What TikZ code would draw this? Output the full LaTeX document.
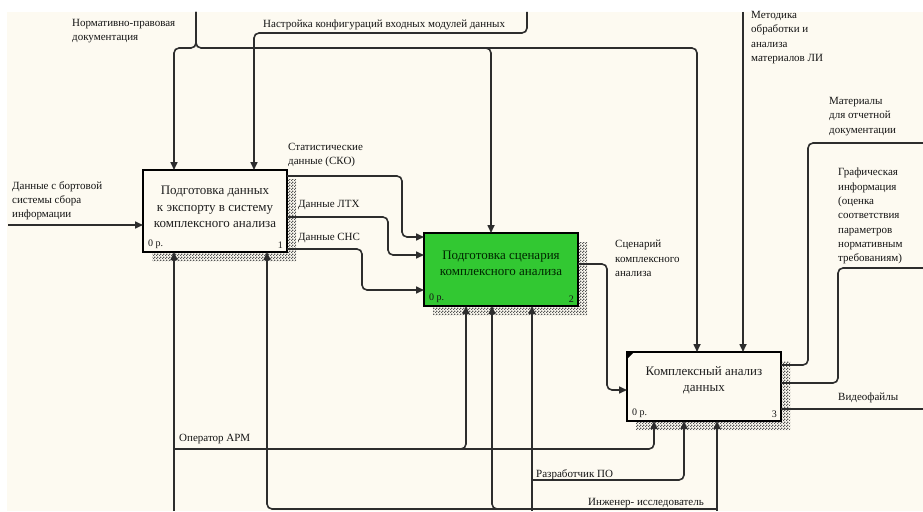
\documentclass[tikz,border=0pt]{standalone}
\usepackage{fontspec}
\setmainfont{Liberation Serif}
\newfontfamily\diagfont{Liberation Serif}
\usetikzlibrary{arrows.meta,calc,patterns}

\definecolor{paper}{RGB}{253,250,241}
\definecolor{wirec}{RGB}{45,45,45}
\definecolor{actgreen}{RGB}{50,200,50}
\definecolor{shadec}{RGB}{85,85,85}

\pgfdeclarelayer{paperlayer}
\pgfdeclarelayer{shadowlayer}
\pgfsetlayers{paperlayer,shadowlayer,main}

% fine checker used for the drop shadows of the activity boxes
\pgfdeclarepatternformonly{finechecker}{\pgfpointorigin}{\pgfpoint{3pt}{3pt}}{\pgfpoint{3pt}{3pt}}{
  \pgfpathrectangle{\pgfpointorigin}{\pgfpoint{1.5pt}{1.5pt}}
  \pgfpathrectangle{\pgfpoint{1.5pt}{1.5pt}}{\pgfpoint{1.5pt}{1.5pt}}
  \pgfusepath{fill}}

\tikzset{
  wire/.style={draw=wirec, line width=1.6pt, rounded corners=5pt},
  arr/.style={wire, -{Triangle[length=8pt,width=7pt]}},
  lbl/.style={font=\diagfont\fontsize{11}{14.3}\selectfont, align=left, inner sep=0pt,
              anchor=north west, text=black!92},
  act/.style={draw=black, line width=2.3pt, inner sep=0pt, outer sep=0pt, fill=paper},
  acttext/.style={font=\diagfont\fontsize{13}{16.5}\selectfont, align=center, inner sep=0pt, text=black!88},
  corner/.style={font=\diagfont\fontsize{10}{12}\selectfont, inner sep=0pt, text=black!92},
  shadowbox/.style={pattern=finechecker, pattern color=shadec}
}

\begin{document}
\diagfont
\begin{tikzpicture}[x=1pt,y=-1pt]
\useasboundingbox (0,0) rectangle (923,511);
\begin{pgfonlayer}{paperlayer}
  \fill[white] (0,0) rectangle (923,511);
  \fill[paper] (7,12) rectangle (923,511);
\end{pgfonlayer}

% activity boxes
\node[act, minimum width=144pt, minimum height=82pt] (b1) at (215,211) {};
\node[act, fill=actgreen, minimum width=154pt, minimum height=73pt] (b2) at (501,269.5) {};
\node[act, minimum width=154pt, minimum height=69pt] (b3) at (704,386.5) {};

\node[acttext] (t1) at ($(b1.center)+(0,-4)$) {Подготовка данных\\к экспорту в систему\\комплексного анализа};
\node[acttext, text=black!85!green] (t2) at ($(b2.center)+(0,-6)$) {Подготовка сценария\\комплексного анализа};
\node[acttext] (t3) at ($(b3.center)+(0,-6)$) {Комплексный анализ\\данных};

\node[corner, anchor=south west] (n1a) at ($(b1.south west)+(5,-3)$) {0 р.};
\node[corner, anchor=south east] (n1b) at ($(b1.south east)+(-4,-3)$) {1};
\node[corner, anchor=south west] (n2a) at ($(b2.south west)+(5,-3)$) {0 р.};
\node[corner, anchor=south east] (n2b) at ($(b2.south east)+(-4,-3)$) {2};
\node[corner, anchor=south west] (n3a) at ($(b3.south west)+(5,-3)$) {0 р.};
\node[corner, anchor=south east] (n3b) at ($(b3.south east)+(-4,-3)$) {3};
\fill (b3.north west) -- ++(7,0) -- ++(-7,7) -- cycle;

% drop shadows
\begin{pgfonlayer}{shadowlayer}
  \foreach \b in {b1,b2,b3}
    \fill[shadowbox] ($(\b.north east)+(0,9)$) rectangle ($(\b.south east)+(9,9)$)
                     ($(\b.south west)+(9,0)$) rectangle ($(\b.south east)+(9,9)$);
\end{pgfonlayer}

% free ends of the boundary arrows
\coordinate (inData) at (8,225);
\coordinate (ctlNorm) at (196,12);
\coordinate (ctlConf) at (527,12);
\coordinate (ctlMeth) at (743,12);
\coordinate (outMat) at (923,143);
\coordinate (outGraph) at (923,268);
\coordinate (outVideo) at (923,409);
\coordinate (mechOp) at (174,511);
\coordinate (mechDev) at (532,511);
\coordinate (mechEng) at (717,511);

% input
\draw[arr] (inData) -- (inData -| b1.west);

% controls
\draw[arr] (ctlNorm) -- (196,48) -- (174,48) -- (174,0 |- b1.north);
\draw[arr] (ctlNorm) -- (196,48) -- (697,48) -- (697,0 |- b3.north);
\draw[arr] (478,48) -- (491,48) -- (491,0 |- b2.north);
\draw[arr] (ctlConf) -- (527,33) -- (254,33) -- (254,0 |- b1.north);
\draw[arr] (ctlMeth) -- (743,0 |- b3.north);

% box 1 to box 2
\draw[arr] (b1.east |- 0,176) -- (402,176) -- (402,237) -- (b2.west |- 0,237);
\draw[arr] (b1.east |- 0,217) -- (388,217) -- (388,255) -- (b2.west |- 0,255);
\draw[arr] (b1.east |- 0,249) -- (362,249) -- (362,290) -- (b2.west |- 0,290);

% box 2 to box 3
\draw[arr] (b2.east |- 0,264) -- (607,264) -- (607,390) -- (b3.west |- 0,390);

% outputs of box 3
\draw[wire] (b3.east |- 0,365) -- (808,365) -- (808,143) -- (outMat);
\draw[wire] (b3.east |- 0,383) -- (838,383) -- (838,268) -- (outGraph);
\draw[wire] (b3.east |- 0,409) -- (outVideo);

% mechanisms
\draw[arr] (mechOp) -- (174,0 |- b1.south);
\draw[arr] (174,449) -- (466,449) -- (466,0 |- b2.south);
\draw[arr] (174,449) -- (654,449) -- (654,0 |- b3.south);
\draw[arr] (mechDev) -- (532,0 |- b2.south);
\draw[arr] (532,480) -- (684,480) -- (684,0 |- b3.south);
\draw[arr] (mechEng) -- (717,0 |- b3.south);
\draw[arr] (717,509) -- (267,509) -- (267,0 |- b1.south);
\draw[arr] (510,509) -- (492,509) -- (492,0 |- b2.south);

% arrow labels
\node[lbl] (lNorm) at (72,19) {Нормативно-правовая\\документация};
\node[lbl] (lConf) at (263,20) {Настройка конфигураций входных модулей данных};
\node[lbl] (lMeth) at (751,11) {Методика\\обработки и\\анализа\\материалов ЛИ};
\node[lbl] (lMat) at (829,97) {Материалы\\для отчетной\\документации};
\node[lbl] (lGraph) at (838,168) {Графическая\\информация\\(оценка\\соответствия\\параметров\\нормативным\\требованиям)};
\node[lbl] (lVideo) at (838,393) {Видеофайлы};
\node[lbl] (lScen) at (615,240) {Сценарий\\комплексного\\анализа};
\node[lbl] (lStat) at (288,143) {Статистические\\данные (СКО)};
\node[lbl] (lLTX) at (298,200) {Данные ЛТХ};
\node[lbl] (lSNS) at (298,233) {Данные СНС};
\node[lbl] (lIn) at (12,181) {Данные с бортовой\\системы сбора\\информации};
\node[lbl] (lOp) at (179,434) {Оператор АРМ};
\node[lbl] (lDev) at (536,469) {Разработчик ПО};
\node[lbl] (lEng) at (588,498) {Инженер- исследователь};
\end{tikzpicture}
\end{document}
